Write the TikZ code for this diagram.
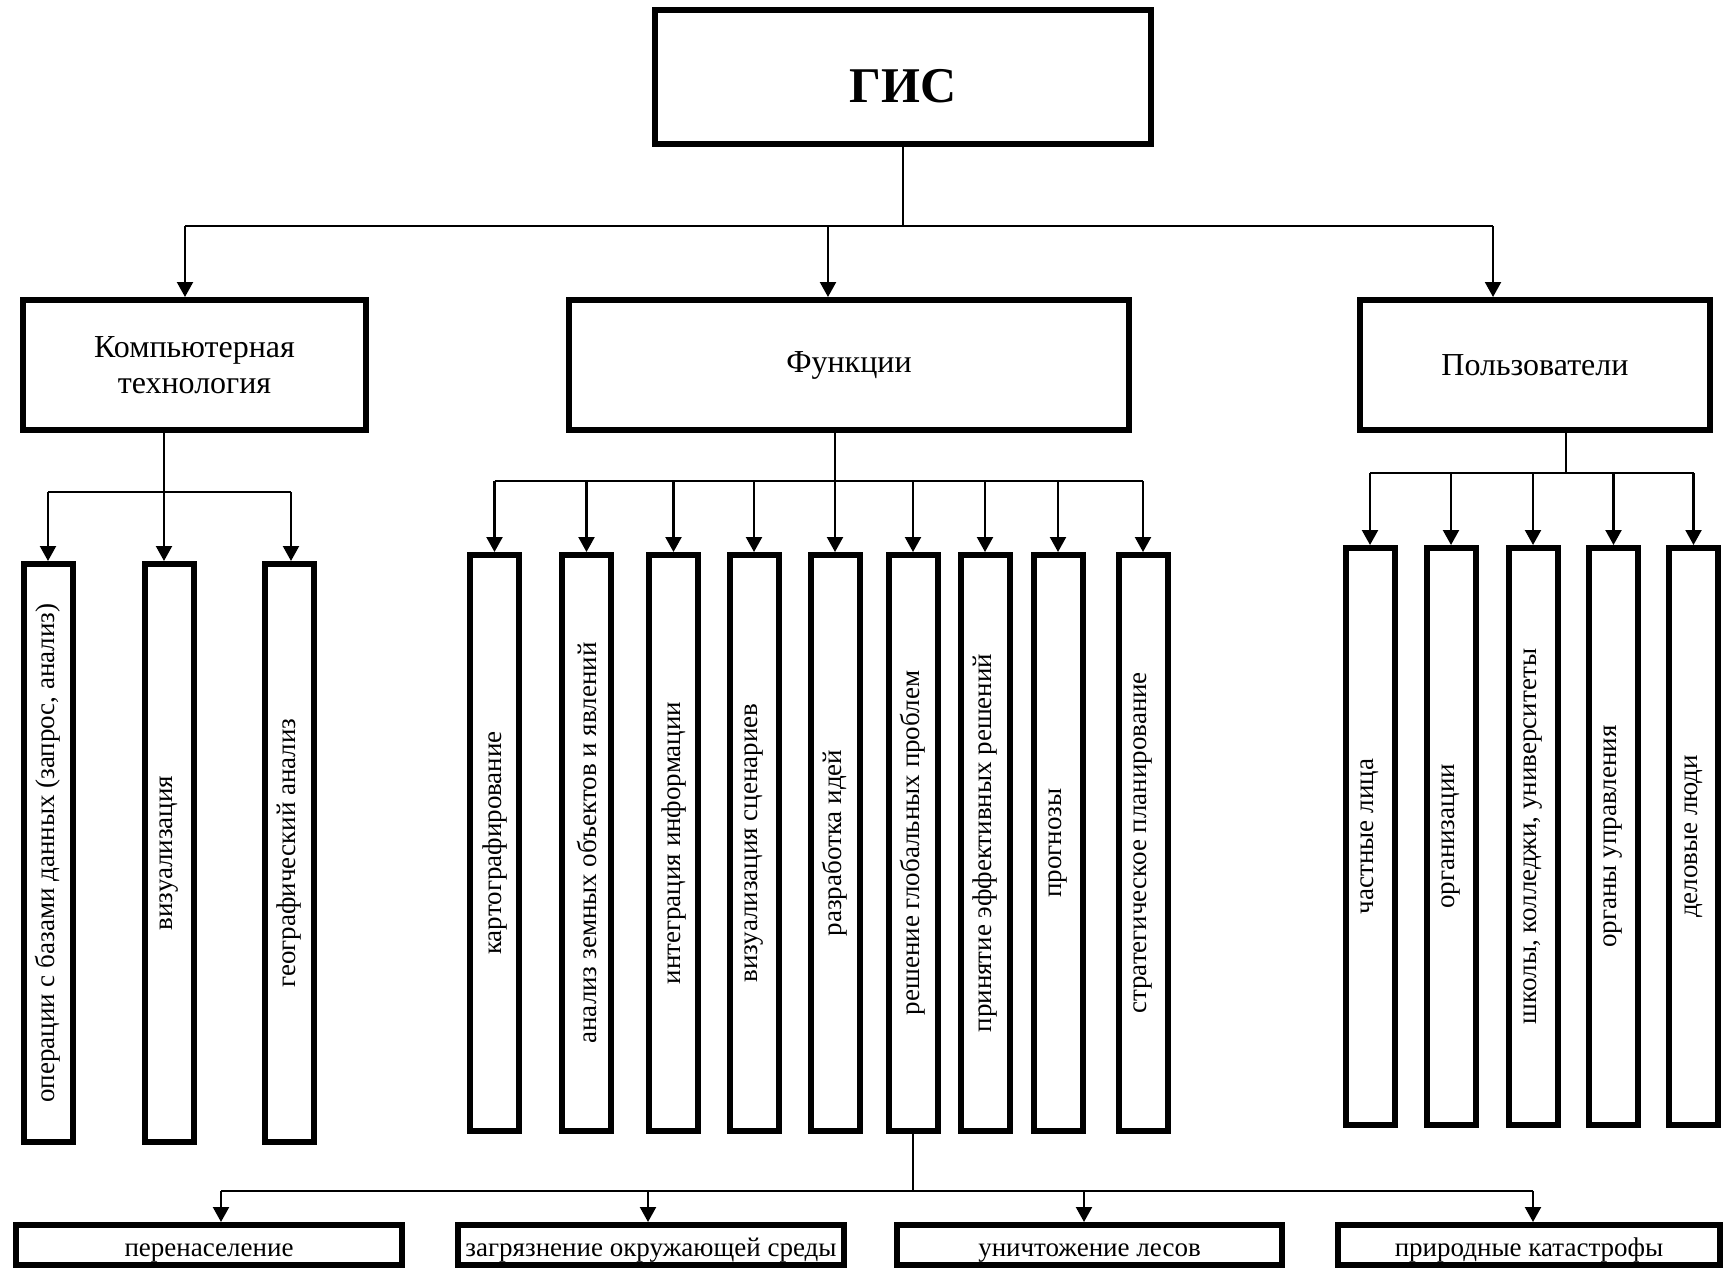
\documentclass[tikz,border=0pt]{standalone}
\usepackage{fontspec}
\setmainfont{Liberation Serif}
\usetikzlibrary{arrows.meta}
\begin{document}
\begin{tikzpicture}[x=1pt,y=-1pt,
  box/.style={draw, line width=6pt, inner sep=0pt, rectangle},
  topbox/.style={box, minimum height=130pt, font=\fontsize{32}{36}\selectfont, align=center},
  vbox/.style={box, minimum width=49pt},
  vtext/.style={rotate=90, inner sep=0pt, font=\fontsize{27}{30}\selectfont},
  hbox/.style={box, minimum height=40pt, text height=22pt, text depth=0pt, font=\fontsize{27}{30}\selectfont},
  conn/.style={line width=2.2pt},
  arr/.style={conn, -{Triangle[length=15pt,width=16pt]}},
]
\useasboundingbox (0,0) rectangle (1726,1268);

% top
\node[box, minimum width=496pt, minimum height=134pt, text height=52pt, text depth=0pt,
      font=\fontsize{50}{54}\selectfont\bfseries] (gis) at (903,77) {ГИС};

% level 2
\node[topbox, minimum width=343pt] (komp) at (194.5,365) {Компьютерная\\технология};
\node[topbox, minimum width=560pt] (fun) at (849,365) {Функции};
\node[topbox, minimum width=350pt] (usr) at (1535,365) {Пользователи};

% level 3: computer technology
\node[vbox, minimum height=578pt, label={[vtext]center:операции с базами данных (запрос, анализ)}] (k1) at (48,853) {};
\node[vbox, minimum height=578pt, label={[vtext]center:визуализация}] (k2) at (169,853) {};
\node[vbox, minimum height=578pt, label={[vtext]center:географический анализ}] (k3) at (289,853) {};

% level 3: functions
\foreach \n/\x/\t in {f1/494.5/картографирование,
                      f2/586.5/анализ земных объектов и явлений,
                      f3/673.5/интеграция информации,
                      f4/754/визуализация сценариев,
                      f5/835/разработка идей,
                      f6/913/решение глобальных проблем,
                      f7/985/принятие эффективных решений,
                      f8/1058/прогнозы,
                      f9/1143/стратегическое планирование}
  \node[vbox, minimum height=576pt, label={[vtext]center:\t}] (\n) at (\x,843) {};

% level 3: users
\foreach \n/\x/\t in {u1/1370/частные лица,
                      u2/1451/организации,
                      u3/1533/{школы, колледжи, университеты},
                      u4/1613.5/органы управления,
                      u5/1693.5/деловые люди}
  \node[vbox, minimum height=577pt, label={[vtext]center:\t}] (\n) at (\x,836.5) {};

% bottom
\node[hbox, minimum width=386pt] (p1) at (209,1245) {перенаселение};
\node[hbox, minimum width=386pt] (p2) at (651,1245) {загрязнение окружающей среды};
\node[hbox, minimum width=385pt] (p3) at (1089.5,1245) {уничтожение лесов};
\node[hbox, minimum width=382pt] (p4) at (1529,1245) {природные катастрофы};

% connectors: top
\coordinate (b0) at (903,226);
\coordinate (bL) at (185,226);
\coordinate (bM) at (828,226);
\coordinate (bR) at (1493,226);
\draw[conn] (gis.south) -- (b0);
\draw[conn] (bL) -- (bR);
\draw[arr] (bL) -- (bL |- komp.north);
\draw[arr] (bM) -- (bM |- fun.north);
\draw[arr] (bR) -- (bR |- usr.north);

% connectors: computer technology
\coordinate (k0) at (164,492);
\coordinate (kL) at (48,492);
\coordinate (kR) at (291,492);
\draw[conn] (kL) -- (kR);
\draw[arr] (k0 |- komp.south) -- (k0 |- k2.north);
\draw[arr] (kL) -- (kL |- k1.north);
\draw[arr] (kR) -- (kR |- k3.north);

% connectors: functions
\coordinate (fb) at (835,481);
\draw[conn] (fb |- fun.south) -- (fb);
\draw[conn] (f1.north |- fb) -- (f9.north |- fb);
\foreach \n in {f1,f2,f3,f4,f5,f6,f7,f8,f9}
  \draw[arr] (\n.north |- fb) -- (\n.north);

% connectors: users
\coordinate (ub) at (1566,473);
\draw[conn] (ub |- usr.south) -- (ub);
\draw[conn] (u1.north |- ub) -- (u5.north |- ub);
\foreach \n in {u1,u2,u3,u4,u5}
  \draw[arr] (\n.north |- ub) -- (\n.north);

% connectors: global problems
\coordinate (gb) at (913,1191);
\coordinate (g1) at (221,1191);
\coordinate (g2) at (648,1191);
\coordinate (g3) at (1084,1191);
\coordinate (g4) at (1533,1191);
\draw[conn] (f6.south) -- (gb);
\draw[conn] (g1) -- (g4);
\draw[arr] (g1) -- (g1 |- p1.north);
\draw[arr] (g2) -- (g2 |- p2.north);
\draw[arr] (g3) -- (g3 |- p3.north);
\draw[arr] (g4) -- (g4 |- p4.north);
\end{tikzpicture}
\end{document}
